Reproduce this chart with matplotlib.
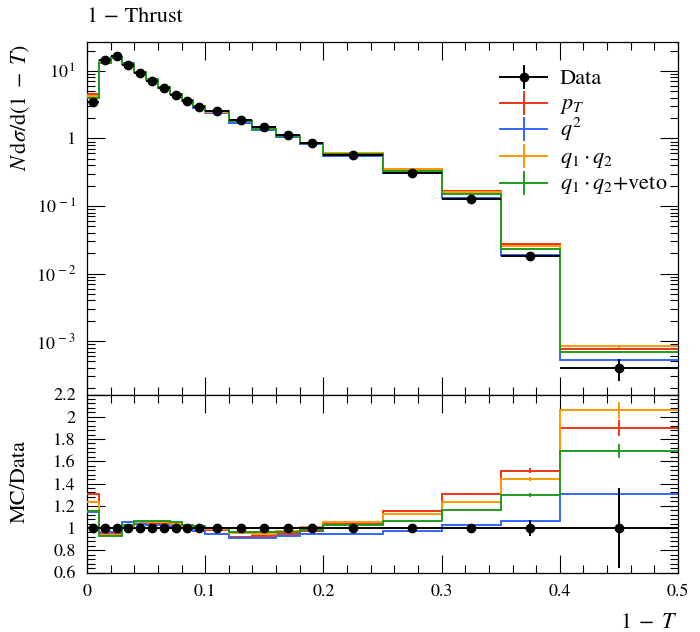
import numpy as np
import matplotlib
matplotlib.use("Agg")
import matplotlib.pyplot as plt
from matplotlib.ticker import MultipleLocator, LogLocator, FixedLocator, FuncFormatter, NullFormatter
from matplotlib.lines import Line2D

plt.rcParams['font.family'] = 'STIXGeneral'
plt.rcParams['mathtext.fontset'] = 'stix'

# ---- data ----
bin_edges = [0.0, 0.01, 0.02, 0.03, 0.04, 0.05, 0.06, 0.07, 0.08, 0.09, 0.10,
             0.12, 0.14, 0.16, 0.18, 0.20, 0.25, 0.30, 0.35, 0.40, 0.50]
data_vals = [3.45, 14.3, 16.6, 12.4, 9.2, 7.06, 5.5, 4.38, 3.57, 2.94,
             2.51, 1.87, 1.46, 1.12, 0.86, 0.57, 0.31, 0.129, 0.018, 4.05e-4]
data_relerr = [0.03, 0.015, 0.015, 0.015, 0.015, 0.015, 0.015, 0.015, 0.015, 0.015,
               0.015, 0.015, 0.015, 0.015, 0.02, 0.02, 0.02, 0.03, 0.075, 0.36]
ratio_pt = [1.31, 0.945, 0.945, 1.02, 1.04, 1.045, 1.045, 1.04, 1.02, 1.0,
            0.98, 0.915, 0.928, 0.95, 0.975, 1.04, 1.154, 1.305, 1.513, 1.90]
ratio_q2 = [1.14, 0.965, 0.965, 1.054, 1.035, 1.03, 1.03, 1.02, 1.0, 0.975,
            0.95, 0.913, 0.913, 0.925, 0.95, 0.95, 0.976, 1.024, 1.06, 1.307]
ratio_q1q2 = [1.235, 0.94, 0.94, 1.02, 1.05, 1.05, 1.05, 1.04, 1.02, 1.01,
              0.99, 0.955, 0.95, 0.973, 1.01, 1.058, 1.127, 1.232, 1.44, 2.058]
ratio_veto = [1.154, 0.928, 0.928, 1.03, 1.06, 1.06, 1.06, 1.055, 1.03, 1.02,
              1.0, 0.965, 0.96, 0.96, 0.986, 1.025, 1.062, 1.166, 1.299, 1.693]
mc_relerr = [0.005] * 18 + [0.015, 0.037]

labels = ['$p_T$', '$q^2$', r'$q_1 \cdot q_2$', r'$q_1 \cdot q_2$+veto']
colors = ['#ee3311', '#3366ff', '#ff9900', '#1f9a1f']
ratios = [ratio_pt, ratio_q2, ratio_q1q2, ratio_veto]

edges = np.array(bin_edges)
centers = 0.5 * (edges[:-1] + edges[1:])
halfw = 0.5 * (edges[1:] - edges[:-1])
d = np.array(data_vals)
derr = d * np.array(data_relerr)
mrel = np.array(mc_relerr)

W, H = 700, 632
fig = plt.figure(figsize=(7.0, 6.32), dpi=100)
L, R = 87 / W, 678 / W
ax = fig.add_axes([L, 1 - 394.5 / H, R - L, (394.5 - 41.5) / H])
rx = fig.add_axes([L, 1 - 572.5 / H, R - L, (572.5 - 394.5) / H], sharex=ax)

lw = 1.4
for rr, c in zip(ratios, colors):
    rr = np.array(rr)
    mc = rr * d
    ax.stairs(mc, edges, color=c, lw=lw, baseline=None, zorder=3)
    ax.errorbar(centers, mc, yerr=mc * mrel, fmt='none', ecolor=c, elinewidth=lw, zorder=3)
    rx.stairs(rr, edges, color=c, lw=lw, baseline=None, zorder=3)
    rx.errorbar(centers, rr, yerr=rr * mrel, fmt='none', ecolor=c, elinewidth=lw, zorder=3)

ax.errorbar(centers, d, yerr=derr, xerr=halfw, fmt='o', color='black', ms=6,
            elinewidth=1.4, capsize=0, zorder=5)
rx.errorbar(centers, np.ones_like(d), yerr=np.array(data_relerr), xerr=halfw, fmt='o',
            color='black', ms=6, elinewidth=1.4, capsize=0, zorder=5)

# main axes
ax.set_yscale('log')
ax.set_ylim(1.62e-4, 27.2)
ax.set_xlim(0, 0.5)

def logfmt(v, pos):
    e = int(round(np.log10(v)))
    if e == 0:
        return '1'
    return r'$10^{\,%s}$' % (('\u2212%d' % -e) if e < 0 else '%d' % e)

ax.yaxis.set_major_locator(LogLocator(base=10, numticks=20))
ax.yaxis.set_minor_locator(LogLocator(base=10, subs=np.arange(2, 10), numticks=20))
ax.yaxis.set_major_formatter(FuncFormatter(logfmt))
ax.yaxis.set_minor_formatter(NullFormatter())

for a in (ax, rx):
    a.xaxis.set_major_locator(MultipleLocator(0.1))
    a.xaxis.set_minor_locator(MultipleLocator(0.02))
    a.tick_params(which='both', direction='in', top=True, right=True, width=0.8,
                  labelsize=13, pad=8)
    a.tick_params(which='major', length=13)
    a.tick_params(which='minor', length=6)
    for s in a.spines.values():
        s.set_linewidth(0.9)
ax.tick_params(labelbottom=False)

rx.set_ylim(0.6, 2.2)
rx.yaxis.set_major_locator(FixedLocator([0.6, 0.8, 1.0, 1.2, 1.4, 1.6, 1.8, 2.0, 2.2]))
rx.yaxis.set_minor_locator(MultipleLocator(0.04))
rx.yaxis.set_major_formatter(FuncFormatter(lambda v, p: ('%.1f' % v).rstrip('0').rstrip('.')))
rx.xaxis.set_major_formatter(FuncFormatter(lambda v, p: ('%.1f' % v).rstrip('0').rstrip('.')))

# texts
fs = 15
fig.text(L, 1 - 17 / H, '1 \u2212 Thrust', ha='left', va='center', fontsize=fs + 1)
fig.text(20 / W, 1 - 44 / H, r'$N\,\mathrm{d}\sigma/\mathrm{d}(1\;-\;T)$', rotation=90,
         ha='center', va='top', fontsize=fs + 1)
fig.text(20 / W, 1 - 440 / H, 'MC/Data', rotation=90, ha='center', va='top', fontsize=fs + 1)
fig.text(R, 1 - 623 / H, r'$1\;-\;T$', ha='right', va='center', fontsize=fs + 1)

# legend (manual)
def ax_xy(px, py):
    return (px - 87) / 591.0, (394.5 - py) / 353.0

rows = [77, 102.5, 129, 156, 183]
entries = [('Data', 'black')] + list(zip(labels, colors))
for (lab, c), py in zip(entries, rows):
    x0, y0 = ax_xy(500, py)
    x1, _ = ax_xy(547, py)
    xm = 0.5 * (x0 + x1)
    ax.add_line(Line2D([x0, x1], [y0, y0], color=c, lw=lw, transform=ax.transAxes, zorder=6))
    ax.add_line(Line2D([xm, xm], [y0 - 11 / 353, y0 + 11 / 353], color=c, lw=lw,
                       transform=ax.transAxes, zorder=6))
    if lab == 'Data':
        ax.add_line(Line2D([xm], [y0], marker='o', ms=6, color='black',
                           transform=ax.transAxes, zorder=7))
    tx, ty = ax_xy(560, py + 6.5)
    ax.text(tx, ty, lab, transform=ax.transAxes, ha='left', va='baseline', fontsize=fs + 1)

fig.savefig('out.png', dpi=100)
